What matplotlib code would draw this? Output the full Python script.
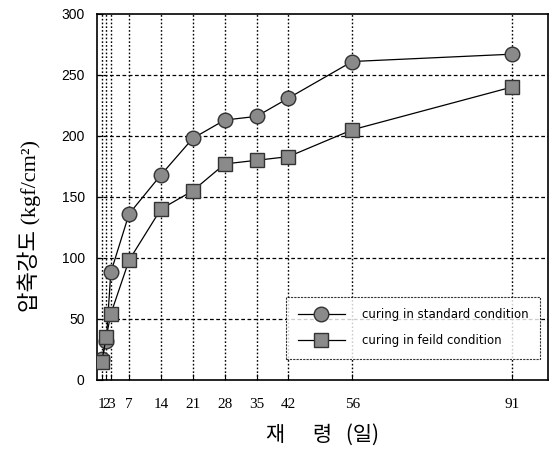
import matplotlib.pyplot as plt
import numpy as np

# 데이터 (재령, 압축강도)
days = [1, 2, 3, 7, 14, 21, 28, 35, 42, 56, 91]
standard = [17, 32, 88, 136, 168, 198, 213, 216, 231, 261, 267]
field = [15, 35, 54, 98, 140, 155, 177, 180, 183, 205, 240]
xticks = [1, 2, 3, 7, 14, 21, 28, 35, 42, 56, 91]
yticks = [0, 50, 100, 150, 200, 250, 300]

fig = plt.figure(figsize=(5.52, 4.5), dpi=100)
ax = fig.add_axes([0.176, 0.156, 0.817, 0.813])

# 격자선
for x in xticks:
    ax.axvline(x, color='k', linestyle=(0, (1.2, 1.5)), linewidth=1.0, zorder=1)
for y in yticks[1:-1]:
    ax.axhline(y, color='k', linestyle=(0, (3, 2)), linewidth=0.9, zorder=1)

ax.plot(days, standard, '-o', color='k', linewidth=0.9, markersize=10.5,
        markerfacecolor='#8a8a8a', markeredgecolor='#333333', zorder=3,
        label='curing in standard condition')
ax.plot(days, field, '-s', color='k', linewidth=0.9, markersize=10.5,
        markerfacecolor='#8a8a8a', markeredgecolor='#333333', zorder=3,
        label='curing in feild condition')

ax.set_xlim(0, 99)
ax.set_ylim(0, 300)
ax.set_xticks(xticks)
ax.set_xticklabels([str(x) for x in xticks], family='Liberation Serif', fontsize=11)
ax.set_yticks(yticks)
ax.set_yticklabels([str(y) for y in yticks], family='Liberation Sans', fontsize=10)
ax.tick_params(direction='in', length=4, width=0.8, pad=9)
ax.tick_params(axis='x', pad=13)

for s in ax.spines.values():
    s.set_linewidth(1.2)

ax.set_ylabel('압축강도 (kgf/cm²)', family=['Liberation Serif', 'Noto Sans CJK KR'],
              fontsize=16)
ax.yaxis.set_label_coords(-0.125, 0.42)
ax.set_xlabel('재      령   (일)', family=['Noto Sans CJK KR', 'DejaVu Sans'],
              fontsize=15, labelpad=9)

leg = ax.legend(loc='lower right', fontsize=8.5, frameon=True, fancybox=False,
                edgecolor='k', handlelength=4.0, borderpad=1.0, labelspacing=1.1,
                handletextpad=1.4, bbox_to_anchor=(0.995, 0.04))
leg.get_frame().set_linewidth(0.8)
leg.get_frame().set_linestyle((0, (2, 1)))

fig.savefig('out.png', dpi=100)
